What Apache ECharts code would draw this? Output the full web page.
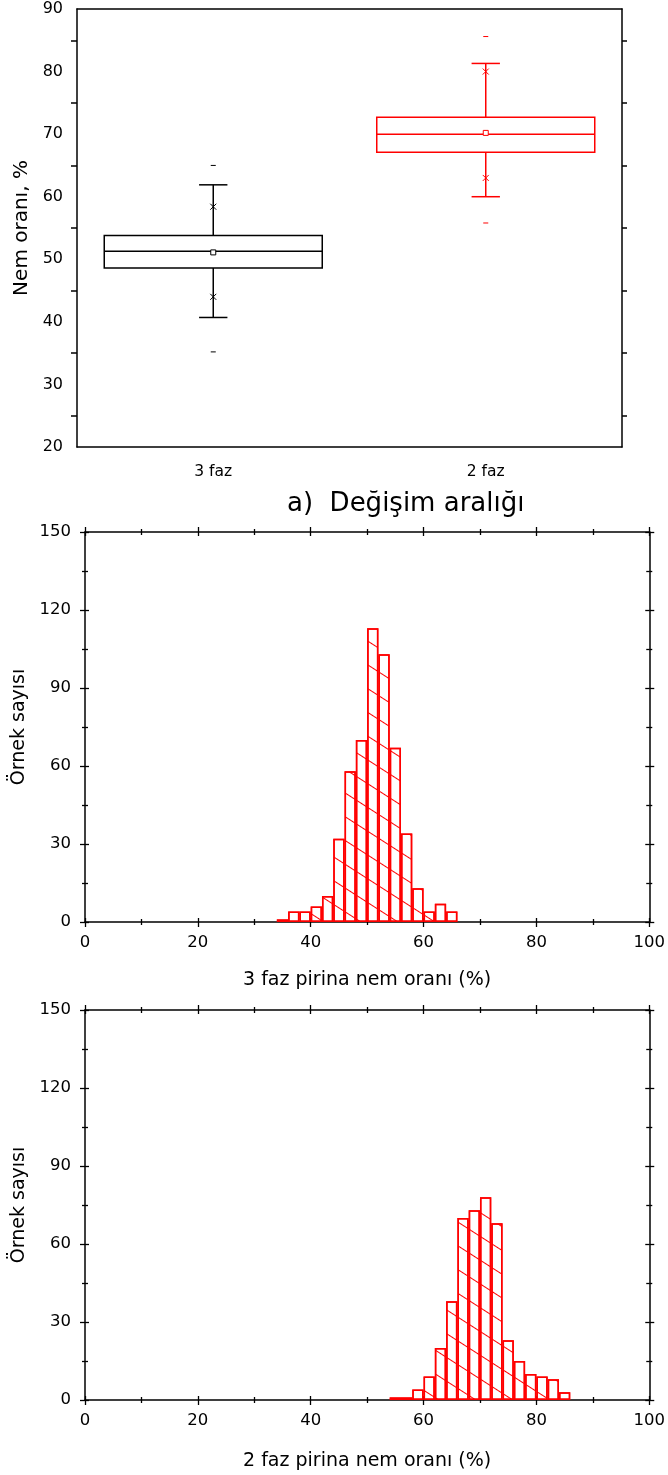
<!DOCTYPE html>
<html>
<head>
<meta charset="utf-8">
<script src="https://cdn.jsdelivr.net/npm/echarts@6/dist/echarts.min.js"></script>
<style>
html,body{margin:0;padding:0;background:#fff}
#main{width:668px;height:1475px}
</style>
</head>
<body>
<div id="main"></div>
<script>
var FONT = 'DejaVu Sans'

// a) Değişim aralığı - box plot
var groups = ['3 faz', '2 faz']
var groupColors = ['#000000', '#ff0000']
var minVals = [35.2, 55.8]
var lowMarks = [44.0, 63.0]
var whiskerLow = [40.7, 60.0]
var q1Vals = [48.6, 67.1]
var medianVals = [51.3, 70.0]
var meanVals = [51.1, 70.2]
var q3Vals = [53.8, 72.7]
var whiskerHigh = [61.9, 81.3]
var highMarks = [58.4, 80.0]
var maxVals = [65.0, 85.6]

// histograms, bin width 2 (left edges)
var binWidth = 2
var bins3 = [34, 36, 38, 40, 42, 44, 46, 48, 50, 52, 54, 56, 58, 60, 62, 64]
var counts3 = [1, 4, 4, 6, 10, 32, 58, 70, 113, 103, 67, 34, 13, 4, 7, 4]
var bins2 = [54, 56, 58, 60, 62, 64, 66, 68, 70, 72, 74, 76, 78, 80, 82, 84]
var counts2 = [1, 1, 4, 9, 20, 38, 70, 73, 78, 68, 23, 15, 10, 9, 8, 3]

var chart = echarts.init(document.getElementById('main'))

var boxData = groups.map(function (g, i) {
    return [i, whiskerLow[i], q1Vals[i], medianVals[i], q3Vals[i], whiskerHigh[i],
        meanVals[i], lowMarks[i], highMarks[i], minVals[i], maxVals[i]]
})

function renderBox(params, api) {
    var i = api.value(0)
    var color = groupColors[i]
    var x = api.coord([i, api.value(3)])[0]
    var band = api.size([1, 0])[0]
    var half = band * 0.4
    var cap = band * 0.052
    function y(d) { return api.coord([i, api.value(d)])[1] }
    function line(x1, y1, x2, y2, w) {
        return { type: 'line', shape: { x1: x1, y1: y1, x2: x2, y2: y2 }, style: { stroke: color, lineWidth: w || 1.5 } }
    }
    var kids = [
        line(x, y(5), x, y(4)),
        line(x, y(2), x, y(1)),
        line(x - cap, y(5), x + cap, y(5)),
        line(x - cap, y(1), x + cap, y(1)),
        { type: 'rect', shape: { x: x - half, y: y(4), width: half * 2, height: y(2) - y(4) }, style: { stroke: color, fill: '#fff', lineWidth: 1.5 } },
        line(x - half, y(3), x + half, y(3)),
        { type: 'rect', shape: { x: x - 2.5, y: y(6) - 2.5, width: 5, height: 5 }, style: { stroke: color, fill: '#fff', lineWidth: 1 } },
        line(x - 3, y(7) - 3, x + 3, y(7) + 3, 1),
        line(x - 3, y(7) + 3, x + 3, y(7) - 3, 1),
        line(x - 3, y(8) - 3, x + 3, y(8) + 3, 1),
        line(x - 3, y(8) + 3, x + 3, y(8) - 3, 1),
        line(x - 2.5, y(9), x + 2.5, y(9), 1),
        line(x - 2.5, y(10), x + 2.5, y(10), 1)
    ]
    return { type: 'group', children: kids }
}

var axisLine = { show: true, onZero: false, lineStyle: { color: '#000', width: 1.5 } }
var labelStyle = { color: '#000', fontFamily: FONT }

var xAxes = [
    { gridIndex: 0, type: 'category', data: groups, position: 'bottom', axisLine: axisLine,
      axisTick: { alignWithLabel: true, length: 8, lineStyle: { width: 1.5 } },
      axisLabel: Object.assign({ fontSize: 15.5, margin: 17 }, labelStyle) },
    { gridIndex: 0, type: 'category', data: groups, position: 'top', axisLine: axisLine,
      axisTick: { alignWithLabel: true, length: 8, lineStyle: { width: 1.5 } },
      axisLabel: { show: false } }
]
var yAxes = [
    { gridIndex: 0, type: 'value', min: 20, max: 90, interval: 10, position: 'left',
      name: 'Nem oranı, %', nameLocation: 'middle', nameGap: 40,
      nameTextStyle: Object.assign({ fontSize: 20 }, labelStyle),
      axisLine: axisLine, splitLine: { show: false },
      axisTick: { length: 9, lineStyle: { width: 1.5 } },
      minorTick: { show: true, splitNumber: 2, length: 6, lineStyle: { color: '#000', width: 1.5 } },
      axisLabel: Object.assign({ fontSize: 16, margin: 14 }, labelStyle) },
    { gridIndex: 0, type: 'value', min: 20, max: 90, interval: 10, position: 'right',
      axisLine: axisLine, splitLine: { show: false },
      axisTick: { length: 9, lineStyle: { width: 1.5 } },
      minorTick: { show: true, splitNumber: 2, length: 5, lineStyle: { color: '#000', width: 1.5 } },
      axisLabel: { show: false } }
]

// four axes per side pair so the ticks cross the frame
function frameAxes(list, grid, pos, other, opt) {
    var first = list.length
    var sides = [[pos, false, true], [pos, true, false], [other, false, false], [other, true, false]]
    sides.forEach(function (s) {
        var a = {
            gridIndex: grid, type: 'value', min: opt.min, max: opt.max, interval: opt.interval,
            position: s[0], axisLine: s[1] ? { show: false, onZero: false } : axisLine,
            splitLine: { show: false },
            axisTick: { inside: s[1], length: s[1] ? 4 : 5, lineStyle: { color: '#000', width: 1.3 } },
            minorTick: { show: true, splitNumber: 2, length: 3, lineStyle: { color: '#000', width: 1.3 } },
            axisLabel: s[2] ? Object.assign({ fontSize: 16.5, margin: opt.margin }, labelStyle) : { show: false }
        }
        if (s[2]) {
            a.name = opt.name
            a.nameLocation = 'middle'
            a.nameGap = opt.nameGap
            a.nameTextStyle = Object.assign({ fontSize: 19 }, labelStyle)
        }
        list.push(a)
    })
    return first
}

var hx1 = frameAxes(xAxes, 1, 'bottom', 'top', { min: 0, max: 100, interval: 20, margin: 12, name: '3 faz pirina nem oranı (%)', nameGap: 49 })
var hy1 = frameAxes(yAxes, 1, 'left', 'right', { min: 0, max: 150, interval: 30, margin: 14, name: 'Örnek sayısı', nameGap: 54 })
var hx2 = frameAxes(xAxes, 2, 'bottom', 'top', { min: 0, max: 100, interval: 20, margin: 12, name: '2 faz pirina nem oranı (%)', nameGap: 52 })
var hy2 = frameAxes(yAxes, 2, 'left', 'right', { min: 0, max: 150, interval: 30, margin: 14, name: 'Örnek sayısı', nameGap: 54 })

function histData(bins, counts) {
    return bins.map(function (b, i) { return [b + binWidth / 2, counts[i]] })
}

var hatch = {
    symbol: 'rect', symbolSize: 1, color: '#ff0000',
    dashArrayX: [1, 0], dashArrayY: [1, 19], rotation: Math.PI / 5.5
}
var barStyle = { color: '#fff', borderColor: '#ff0000', borderWidth: 1.5, decal: hatch }

chart.setOption({
    animation: false,
    title: {
        text: 'a)  Değişim aralığı', left: 287, top: 491, padding: 0,
        textStyle: { fontFamily: FONT, fontSize: 26, fontWeight: 'normal', color: '#000' }
    },
    grid: [
        { left: 77, right: 46, top: 9, bottom: 1028 },
        { left: 85, right: 16, top: 532, bottom: 553 },
        { left: 85, right: 16, top: 1010, bottom: 75 }
    ],
    xAxis: xAxes,
    yAxis: yAxes,
    series: [
        { type: 'custom', xAxisIndex: 0, yAxisIndex: 0, renderItem: renderBox,
          encode: { x: 0, y: [1, 2, 3, 4, 5, 6, 7, 8, 9, 10] }, data: boxData },
        { type: 'bar', xAxisIndex: hx1, yAxisIndex: hy1, barWidth: '100%',
          itemStyle: barStyle, data: histData(bins3, counts3) },
        { type: 'bar', xAxisIndex: hx2, yAxisIndex: hy2, barWidth: '100%',
          itemStyle: barStyle, data: histData(bins2, counts2) }
    ]
})
</script>
</body>
</html>
